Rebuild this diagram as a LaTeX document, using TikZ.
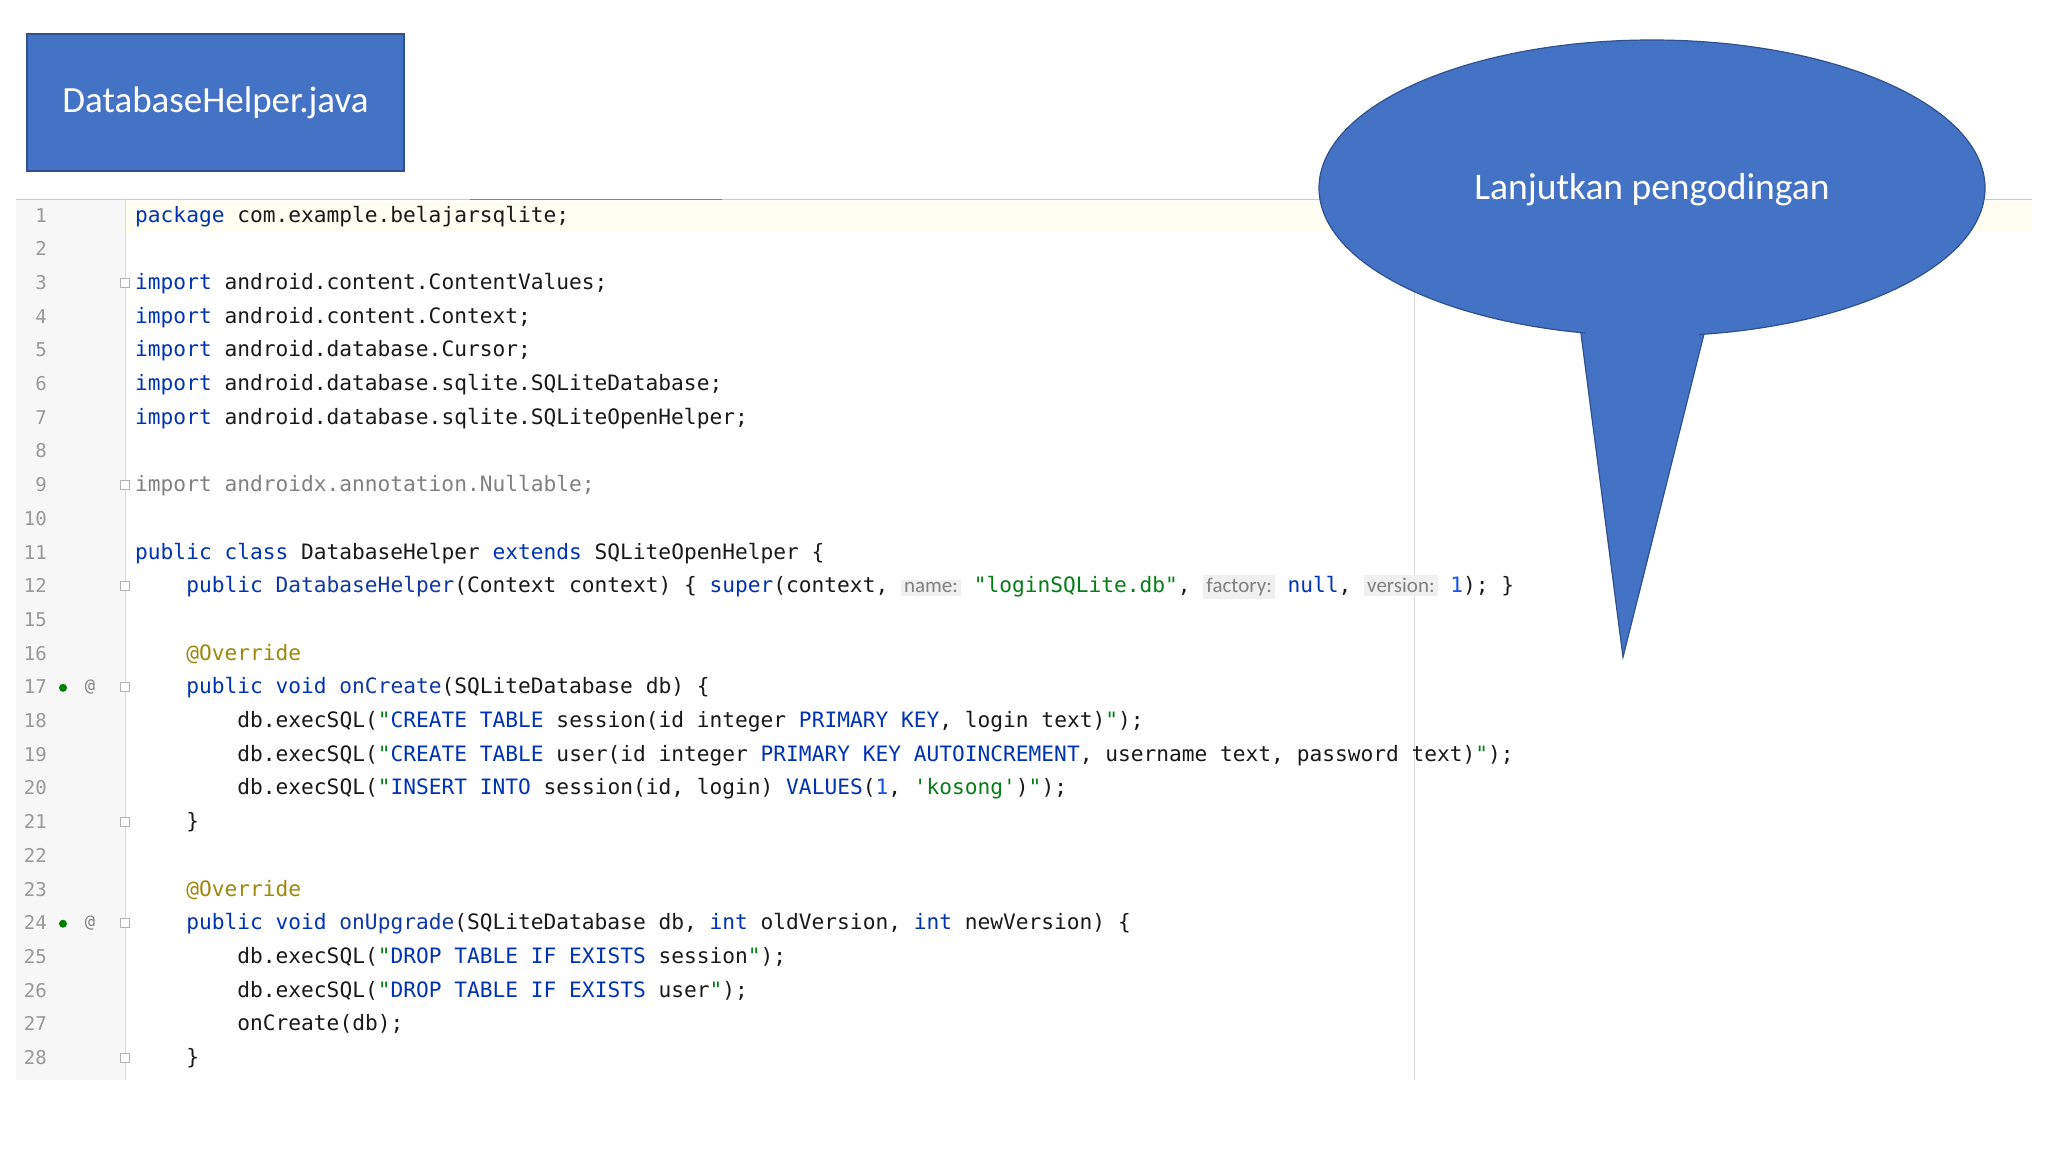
\documentclass[tikz,border=0pt]{standalone}
\usepackage{fontspec}
\setmainfont{Carlito}
\setmonofont{DejaVu Sans Mono}
\setsansfont{Carlito}
\usetikzlibrary{shapes.geometric}
\definecolor{callblue}{HTML}{4472C4}
\definecolor{calledge}{HTML}{2F528F}
\definecolor{kwc}{HTML}{0033B3}
\definecolor{stc}{HTML}{067D17}
\definecolor{nmc}{HTML}{1750EB}
\definecolor{anc}{HTML}{9E880D}
\definecolor{grc}{HTML}{808080}
\definecolor{lnc}{HTML}{999999}
\newcommand{\kw}[1]{\textcolor{kwc}{#1}}
\newcommand{\st}[1]{\textcolor{stc}{#1}}
\newcommand{\nm}[1]{\textcolor{nmc}{#1}}
\newcommand{\an}[1]{\textcolor{anc}{#1}}
\newcommand{\hn}[1]{{\setlength{\fboxsep}{3pt}\colorbox{black!6}{\fontsize{21}{22}\sffamily\color{grc}#1}}}
\tikzset{
 codeline/.style={anchor=base west,inner sep=0pt,font=\fontsize{21.2}{24}\ttfamily,text=black!90},
 lnum/.style={anchor=base east,inner sep=0pt,font=\fontsize{19}{22}\ttfamily,text=lnc},
 fold/.style={draw=black!30,fill=white,minimum size=9pt,inner sep=0pt},
 callout/.style={fill=callblue,draw=calledge,line width=1.2pt}
}
\begin{document}
\begin{tikzpicture}[x=1pt,y=-1pt]
\useasboundingbox (0,0) rectangle (2048,1152);
\fill[white] (0,0) rectangle (2048,1152);
% code area
\fill[black!3] (16,199) rectangle (125,1080);
\fill[yellow!6] (125,201) rectangle (2032,232);
\draw[black!20] (16,199) -- (2032,199);
\draw[kwc!60,line width=1pt] (470,199) -- (722,199);
\draw[black!15] (1414,199) -- (1414,1080);
\draw[black!15] (125,199) -- (125,1080);
\foreach \n [count=\i from 0] in {1,2,3,4,5,6,7,8,9,10,11,12,15,16,17,18,19,20,21,22,23,24,25,26,27,28}
  \node[lnum] (ln\n) at (47,222+33.7*\i) {\n};
\foreach \r in {2,8,11,14,18,21,25}
  \node[fold] (fd\r) at (125,215+33.7*\r) {};
\foreach \r in {14,21}{
  \node[inner sep=0pt,font=\fontsize{17}{18}\ttfamily,text=grc] (at\r) at (90,215+33.7*\r) {@};
  \node[circle,fill=green!50!black,minimum size=8pt,inner sep=0pt] (ic\r) at (63,216+33.7*\r) {};
}
\def\ind{51.1}
\newcommand{\cl}[3]{\node[codeline] (c#1) at (135+#2*\ind,222+33.7*#1) {#3};}
\cl{0}{0}{\kw{package} com.example.belajarsqlite;}
\cl{2}{0}{\kw{import} android.content.ContentValues;}
\cl{3}{0}{\kw{import} android.content.Context;}
\cl{4}{0}{\kw{import} android.database.Cursor;}
\cl{5}{0}{\kw{import} android.database.sqlite.SQLiteDatabase;}
\cl{6}{0}{\kw{import} android.database.sqlite.SQLiteOpenHelper;}
\cl{8}{0}{\textcolor{grc}{import androidx.annotation.Nullable;}}
\cl{10}{0}{\kw{public class} DatabaseHelper \kw{extends} SQLiteOpenHelper \{}
\cl{11}{1}{\kw{public} \textcolor{nmc!70!black}{DatabaseHelper}(Context context) \{ \kw{super}(context, \hn{name:} \st{"loginSQLite.db"}, \hn{factory:} \kw{null}, \hn{version:} \nm{1}); \}}
\cl{13}{1}{\an{@Override}}
\cl{14}{1}{\kw{public void} \textcolor{nmc!70!black}{onCreate}(SQLiteDatabase db) \{}
\cl{15}{2}{db.execSQL(\st{"}\kw{CREATE TABLE} session(id integer \kw{PRIMARY KEY}, login text)\st{"});}
\cl{16}{2}{db.execSQL(\st{"}\kw{CREATE TABLE} user(id integer \kw{PRIMARY KEY AUTOINCREMENT}, username text, password text)\st{"});}
\cl{17}{2}{db.execSQL(\st{"}\kw{INSERT INTO} session(id, login) \kw{VALUES}(\nm{1}, \st{'kosong'})\st{"});}
\cl{18}{1}{\}}
\cl{20}{1}{\an{@Override}}
\cl{21}{1}{\kw{public void} \textcolor{nmc!70!black}{onUpgrade}(SQLiteDatabase db, \kw{int} oldVersion, \kw{int} newVersion) \{}
\cl{22}{2}{db.execSQL(\st{"}\kw{DROP TABLE IF EXISTS} session\st{"});}
\cl{23}{2}{db.execSQL(\st{"}\kw{DROP TABLE IF EXISTS} user\st{"});}
\cl{24}{2}{onCreate(db);}
\cl{25}{1}{\}}
% title
\node[callout,minimum width=377pt,minimum height=137pt,inner sep=0pt,font=\fontsize{37}{42}\selectfont,text=white] (title) at (215.5,102.5) {DatabaseHelper.java};
% callout
\path[callout] (1580,326) -- (1623,657) -- (1706,326) -- cycle;
\node[callout,ellipse,minimum width=666pt,minimum height=296pt] (bubble) at (1652,188) {};
\fill[callblue] (1584,320) -- (1623,650) -- (1702,320) -- cycle;
\node[font=\fontsize{37.5}{42}\selectfont,text=white] (btxt) at (1652,190) {Lanjutkan pengodingan};
\end{tikzpicture}
\end{document}
